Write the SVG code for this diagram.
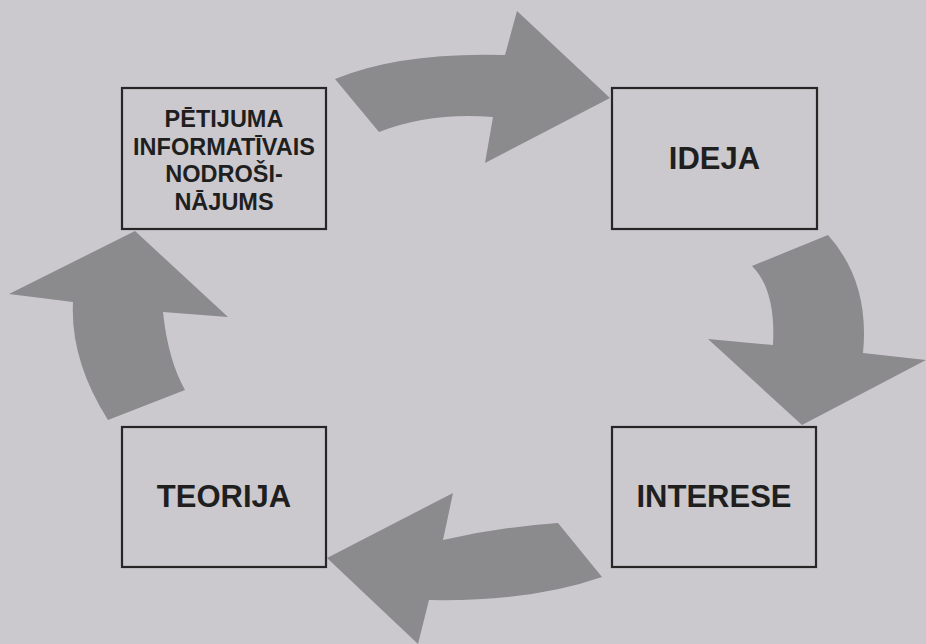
<svg xmlns="http://www.w3.org/2000/svg" width="926" height="644" viewBox="0 0 926 644">
<style>
.box{fill:none;stroke:#262626;stroke-width:2.2}
.arrow{fill:#8b8a8d}
.t{font-family:"Liberation Sans",Arial,sans-serif;font-weight:bold;fill:#1f1f1f;text-anchor:middle}
.big{font-size:31px}
.small{font-size:23.5px}
</style>
<rect width="926" height="644" fill="#cbc9cd"/>
<g id="connectors">
<path class="arrow" d="M335,79 Q400,52 505,55 L517,11 L610,98 L485,163 L493,117 Q430,112 379,132 Z"/>
<path class="arrow" d="M752,266 L828,235 Q870,282 863,353 L926,360 L802,425 L708,339 L773,345 Q776,290 752,266 Z"/>
<path class="arrow" d="M558,523 L602,577 Q530,602 429,600 L418,644 L327,558 L453,493 L443,540 Q500,527 558,523 Z"/>
<path class="arrow" d="M135,231 L228,317 L163,312 Q168,360 185,390 L108,420 Q70,360 73,302 L9,294 Z"/>
</g>
<g id="node-petijuma">
<rect class="box" x="122" y="88" width="204" height="141"/>
<text class="t small" x="224" y="127">PĒTIJUMA</text>
<text class="t small" x="224" y="154.5">INFORMATĪVAIS</text>
<text class="t small" x="224" y="182">NODROŠI-</text>
<text class="t small" x="224" y="209.5">NĀJUMS</text>
</g>
<g id="node-ideja">
<rect class="box" x="612" y="88" width="205" height="141"/>
<text class="t big" x="714.5" y="169">IDEJA</text>
</g>
<g id="node-interese">
<rect class="box" x="612" y="427" width="204" height="140"/>
<text class="t big" x="714" y="507">INTERESE</text>
</g>
<g id="node-teorija">
<rect class="box" x="122" y="427" width="204" height="140"/>
<text class="t big" x="224" y="507">TEORIJA</text>
</g>
</svg>
